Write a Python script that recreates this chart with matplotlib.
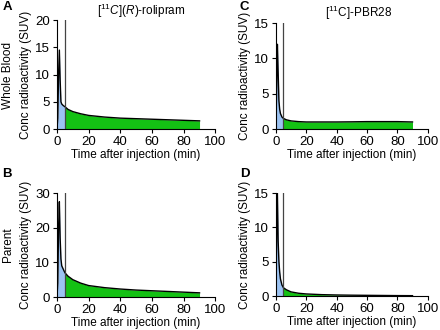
import matplotlib
matplotlib.use("Agg")
import matplotlib.pyplot as plt

plt.rcParams.update({
    "font.family": ["Liberation Sans", "DejaVu Sans"],
    "font.size": 8.5,
    "mathtext.fontset": "custom",
    "mathtext.rm": "Liberation Sans",
    "mathtext.it": "Liberation Sans:italic",
})

# time points (min)
T = [0, 0.5, 1.0, 1.5, 2.0, 2.5, 3.0, 4.0, 5.0, 7.0, 10, 15, 20, 30, 40, 50, 60, 70, 80, 90]

# [11C](R)-rolipram
ROL_BLOOD = [0, 2.0, 10.0, 14.5, 9.0, 5.0, 4.6, 4.3, 4.1, 3.6, 3.2, 2.8, 2.5, 2.2, 2.0, 1.9, 1.8, 1.7, 1.6, 1.5]
ROL_PARENT = [0, 4.0, 20.0, 27.5, 17.0, 11.0, 9.0, 8.0, 7.0, 6.0, 5.0, 4.0, 3.3, 2.7, 2.3, 2.0, 1.8, 1.6, 1.4, 1.2]

# [11C]-PBR28
PBR_BLOOD = [0, 6.0, 12.0, 8.0, 4.0, 2.8, 2.2, 1.7, 1.5, 1.3, 1.15, 1.05, 1.0, 1.0, 1.0, 1.02, 1.05, 1.05, 1.05, 1.0]
PBR_PARENT = [0, 9.0, 15.0, 8.0, 5.0, 3.5, 2.5, 1.6, 1.2, 0.9, 0.6, 0.4, 0.3, 0.2, 0.15, 0.12, 0.1, 0.08, 0.06, 0.05]

T_CUT = 5.0
BIRU = "#9cc3f2"
HIJAU = "#14c114"


def panel(ax, t, y, ymax, yticks):
    kiri = [(a, b) for a, b in zip(t, y) if a <= T_CUT]
    kanan = [(a, b) for a, b in zip(t, y) if a >= T_CUT]
    ax.fill_between([p[0] for p in kiri], [p[1] for p in kiri], color=BIRU, lw=0)
    ax.fill_between([p[0] for p in kanan], [p[1] for p in kanan], color=HIJAU, lw=0)
    ax.plot(t, y, color="black", lw=1.0)
    ax.plot([T_CUT, T_CUT], [0, ymax], color="#444444", lw=0.9)
    ax.set_xlim(0, 100)
    ax.set_ylim(0, ymax)
    ax.set_xticks([0, 20, 40, 60, 80, 100])
    ax.set_yticks(yticks)
    ax.spines["top"].set_visible(False)
    ax.spines["right"].set_visible(False)
    ax.tick_params(direction="out", length=3, width=0.8, pad=2, labelsize=9.5)
    ax.set_xlabel("Time after injection (min)", labelpad=1)
    ax.set_ylabel("Conc radioactivity (SUV)", labelpad=2)


fig = plt.figure(figsize=(4.4, 3.3), dpi=100)
axA = fig.add_axes([0.1295, 0.609, 0.36, 0.33])
axC = fig.add_axes([0.627, 0.609, 0.345, 0.321])
axB = fig.add_axes([0.1295, 0.100, 0.36, 0.315])
axD = fig.add_axes([0.627, 0.103, 0.345, 0.312])

panel(axA, T, ROL_BLOOD, 20, [0, 5, 10, 15, 20])
panel(axB, T, ROL_PARENT, 30, [0, 10, 20, 30])
panel(axC, T, PBR_BLOOD, 15, [0, 5, 10, 15])
panel(axD, T, PBR_PARENT, 15, [0, 5, 10, 15])

fig.text(0.32, 0.968, r"[$^{11}$$C$]($R$)-rolipram", ha="center", va="center", fontsize=8.5)
fig.text(0.815, 0.962, r"[$^{11}$C]-PBR28", ha="center", va="center", fontsize=8.5)

for s, x, y in [("A", 0.005, 0.978), ("C", 0.545, 0.978), ("B", 0.005, 0.472), ("D", 0.545, 0.472)]:
    fig.text(x, y, s, ha="left", va="center", fontsize=9.5, fontweight="bold")

fig.text(0.018, 0.77, "Whole Blood", rotation=90, ha="center", va="center", fontsize=8.5)
fig.text(0.018, 0.26, "Parent", rotation=90, ha="center", va="center", fontsize=8.5)

fig.savefig("out.png", dpi=100)
